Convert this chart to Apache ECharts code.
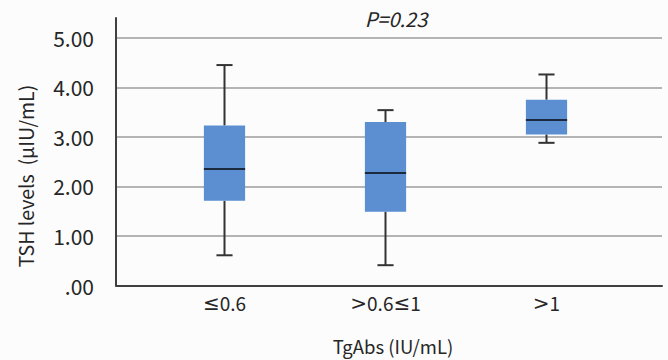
<!DOCTYPE html>
<html>
<head>
<meta charset="utf-8">
<style>
  html, body { margin: 0; padding: 0; background: #fcfcfc; }
  #chart { width: 668px; height: 360px; }
</style>
<script src="https://cdn.jsdelivr.net/npm/echarts@6/dist/echarts.min.js"></script>
</head>
<body>
<div id="chart"></div>
<script>
// TSH levels by TgAbs group, box plot
var categories = ['≤0.6', '>0.6≤1', '>1'];
var whiskerLow = [0.61, 0.41, 2.88];
var q1 = [1.71, 1.49, 3.05];
var median = [2.35, 2.27, 3.34];
var q3 = [3.23, 3.30, 3.75];
var whiskerHigh = [4.45, 3.54, 4.26];
var yTicks = [0, 1, 2, 3, 4, 5];

(function() {
  var ink = '#262626';
  var boxBlue = '#5b8fd2';
  var font = '"Noto Sans CJK SC", "Noto Sans", sans-serif';

  var rows = categories.map(function(c, i) {
    return [i, whiskerLow[i], q1[i], median[i], q3[i], whiskerHigh[i]];
  });

  function renderBox(params, api) {
    var idx = api.value(0);
    var band = api.size([1, 0])[0];
    var half = band * 0.128;
    var capHalf = band * 0.05;
    var pLow = api.coord([idx, api.value(1)]);
    var pQ1 = api.coord([idx, api.value(2)]);
    var pMed = api.coord([idx, api.value(3)]);
    var pQ3 = api.coord([idx, api.value(4)]);
    var pHigh = api.coord([idx, api.value(5)]);
    var cx = pMed[0];
    var line = { stroke: '#333333', lineWidth: 2 };
    return {
      type: 'group',
      children: [
        { type: 'line', shape: { x1: cx, y1: pQ1[1], x2: cx, y2: pLow[1] }, style: line },
        { type: 'line', shape: { x1: cx - capHalf, y1: pLow[1], x2: cx + capHalf, y2: pLow[1] }, style: line },
        { type: 'line', shape: { x1: cx, y1: pQ3[1], x2: cx, y2: pHigh[1] }, style: line },
        { type: 'line', shape: { x1: cx - capHalf, y1: pHigh[1], x2: cx + capHalf, y2: pHigh[1] }, style: line },
        { type: 'rect', shape: { x: cx - half, y: pQ3[1], width: half * 2, height: pQ1[1] - pQ3[1] },
          style: { fill: boxBlue } },
        { type: 'line', shape: { x1: cx - half, y1: pMed[1], x2: cx + half, y2: pMed[1] },
          style: { stroke: '#1b2a3e', lineWidth: 2 } }
      ]
    };
  }

  // the comparison signs are drawn in a plainer, wider face
  function catLabel(v) {
    var out = '';
    for (var i = 0; i < v.length; i++) {
      var ch = v.charAt(i);
      out += (ch === '≤' || ch === '>') ? '{sym|' + ch + '}' : '{num|' + ch + '}';
    }
    return out;
  }

  var chart = echarts.init(document.getElementById('chart'), null, { renderer: 'svg' });
  chart.setOption({
    animation: false,
    backgroundColor: '#fcfcfc',
    grid: [
      { left: 116, right: 6, top: 18, bottom: 74.5 },
      { left: 144, right: 41, top: 18, bottom: 74.5 }
    ],
    xAxis: [
      {
        gridIndex: 0, type: 'value', min: 0, max: 1,
        axisLine: { show: true, onZero: false, lineStyle: { color: '#404040', width: 2 } },
        axisTick: { show: false }, axisLabel: { show: false }, splitLine: { show: false }
      },
      {
        gridIndex: 1, type: 'category', data: categories,
        axisLine: { show: false }, axisTick: { show: false },
        axisLabel: {
          interval: 0, color: ink, fontSize: 19, fontFamily: font, margin: 7,
          formatter: catLabel,
          rich: {
            num: { color: ink, fontSize: 19, fontFamily: font },
            sym: { color: ink, fontSize: 20, fontFamily: '"DejaVu Sans", sans-serif' }
          }
        }
      }
    ],
    yAxis: [
      {
        gridIndex: 0, type: 'value', min: 0, max: 5.4, interval: 1,
        axisLine: { show: true, lineStyle: { color: '#404040', width: 2 } },
        axisTick: { show: false },
        axisLabel: {
          color: ink, fontSize: 21, fontFamily: font, margin: 22, showMaxLabel: false,
          formatter: function(v) {
            if (yTicks.indexOf(v) < 0) return '';
            return v === 0 ? '.00' : v.toFixed(2);
          }
        },
        splitLine: { show: true, showMinLine: false, showMaxLine: false, lineStyle: { color: '#b4b4b4', width: 2 } }
      },
      {
        gridIndex: 1, type: 'value', min: 0, max: 5.4, show: false
      }
    ],
    graphic: [
      {
        type: 'text', x: 396, y: 18,
        style: { text: 'P=0.23', fill: ink, fontSize: 20, fontStyle: 'italic', fontFamily: font,
          align: 'center', verticalAlign: 'middle' }
      },
      {
        type: 'text', x: 25, y: 176, rotation: Math.PI / 2,
        style: { text: 'TSH levels  (μIU/mL)', fill: ink, fontSize: 19.5, fontFamily: font,
          align: 'center', verticalAlign: 'middle' }
      },
      {
        type: 'text', x: 393, y: 346,
        style: { text: 'TgAbs (IU/mL)', fill: ink, fontSize: 18.5, fontFamily: font,
          align: 'center', verticalAlign: 'middle', lineHeight: 20 }
      }
    ],
    series: [{
      type: 'custom',
      xAxisIndex: 1, yAxisIndex: 1,
      renderItem: renderBox,
      encode: { x: 0, y: [1, 2, 3, 4, 5] },
      data: rows
    }]
  });
})();
</script>
</body>
</html>
